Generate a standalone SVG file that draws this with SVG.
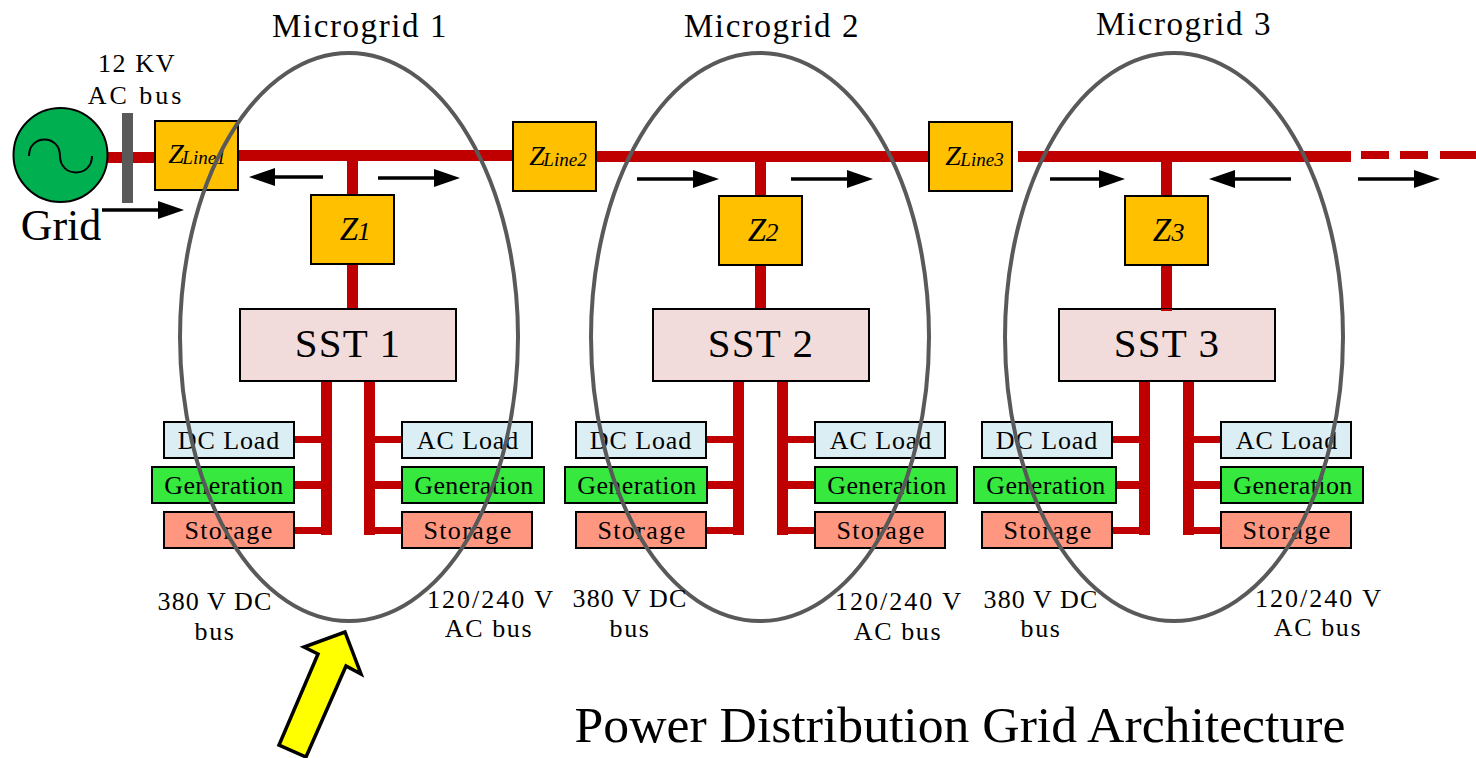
<svg xmlns="http://www.w3.org/2000/svg" width="1476" height="758" viewBox="0 0 1476 758">
<style>
text{font-family:"Liberation Serif","DejaVu Serif",serif;fill:#000;text-anchor:middle}
.box{stroke:#000;stroke-width:2}
.z{fill:#ffc000}
.sst{fill:#f2dcdb}
.dc{fill:#dbeef4}
.gen{fill:#37e83f}
.sto{fill:#ff9680}
.r{fill:#c00000}
.t{font-size:26px;letter-spacing:.9px}
.tg{font-size:26px;letter-spacing:.4px}
.ts{font-size:26px;letter-spacing:1.4px}
.l{font-size:44px}
.mi{font-size:33px;letter-spacing:1.6px}
.sst-t{font-size:41px;letter-spacing:1.2px}
.zt{font-size:33px;font-style:italic}
.zs{font-size:26px;font-style:italic}
.zlt{font-size:28px;font-style:italic}
.zls{font-size:19px;font-style:italic}
.lb{font-size:26px;letter-spacing:1.1px}
.lw{font-size:26px;letter-spacing:2px}
.lm{font-size:26px;letter-spacing:1.6px}
.e{fill:none;stroke:#595959;stroke-width:4}
.a{stroke:#000;stroke-width:3.5;fill:none}
</style>
<defs>
<marker id="ah" markerUnits="userSpaceOnUse" markerWidth="26" markerHeight="18" refX="2" refY="9" orient="auto"><path d="M0 0L26 9L0 18Z" fill="#000"/></marker>
</defs>
<g id="connectors">
<rect class="r" x="106" y="152" width="50" height="11"/>
<rect class="r" x="237" y="150" width="278" height="11"/>
<rect class="r" x="596" y="151" width="335" height="11"/>
<rect class="r" x="1018" y="151" width="333" height="11"/>
<rect class="r" x="1361" y="151" width="28" height="8"/>
<rect class="r" x="1400" y="151" width="28" height="8"/>
<rect class="r" x="1440" y="151" width="36" height="8"/>
<rect class="r" x="347" y="160" width="11" height="150"/>
<rect class="r" x="755" y="160" width="11" height="150"/>
<rect class="r" x="1161" y="160" width="11" height="151"/>
<g id="bus1">
<rect class="r" x="321" y="380" width="11" height="155"/><rect class="r" x="364" y="380" width="11" height="155"/>
<rect class="r" x="293" y="436" width="30" height="7"/><rect class="r" x="293" y="481" width="30" height="8"/><rect class="r" x="293" y="527" width="30" height="7"/>
<rect class="r" x="374" y="436" width="30" height="7"/><rect class="r" x="374" y="481" width="30" height="8"/><rect class="r" x="374" y="527" width="30" height="7"/>
</g>
<g id="bus2">
<rect class="r" x="733" y="380" width="11" height="155"/><rect class="r" x="777" y="380" width="11" height="155"/>
<rect class="r" x="705" y="436" width="30" height="7"/><rect class="r" x="705" y="481" width="30" height="8"/><rect class="r" x="705" y="527" width="30" height="7"/>
<rect class="r" x="787" y="436" width="30" height="7"/><rect class="r" x="787" y="481" width="30" height="8"/><rect class="r" x="787" y="527" width="30" height="7"/>
</g>
<g id="bus3">
<rect class="r" x="1139" y="380" width="11" height="155"/><rect class="r" x="1183" y="380" width="11" height="155"/>
<rect class="r" x="1111" y="436" width="30" height="7"/><rect class="r" x="1111" y="481" width="30" height="8"/><rect class="r" x="1111" y="527" width="30" height="7"/>
<rect class="r" x="1193" y="436" width="30" height="7"/><rect class="r" x="1193" y="481" width="30" height="8"/><rect class="r" x="1193" y="527" width="30" height="7"/>
</g>
<g id="flow-arrows">
<line class="a" x1="102" y1="210" x2="160" y2="210" marker-end="url(#ah)"/>
<line class="a" x1="323" y1="177" x2="273" y2="177" marker-end="url(#ah)"/>
<line class="a" x1="378" y1="178" x2="436" y2="178" marker-end="url(#ah)"/>
<line class="a" x1="637" y1="179" x2="695" y2="179" marker-end="url(#ah)"/>
<line class="a" x1="791" y1="179" x2="849" y2="179" marker-end="url(#ah)"/>
<line class="a" x1="1050" y1="179" x2="1101" y2="179" marker-end="url(#ah)"/>
<line class="a" x1="1291" y1="179" x2="1233" y2="179" marker-end="url(#ah)"/>
<line class="a" x1="1358" y1="179" x2="1416" y2="179" marker-end="url(#ah)"/>
</g>
</g>
<g id="grid"><circle cx="60.5" cy="155" r="47" fill="#00b050" stroke="#000" stroke-width="2"/><path d="M29 156C29 134 60 134 60 156C60 178 92 178 92 156" fill="none" stroke="#000" stroke-width="2"/><text class="l" x="61" y="240">Grid</text></g>
<g id="ac-bus"><rect x="122" y="113" width="11" height="90" fill="#595959"/><text class="lm" x="137" y="72">12 KV</text><text class="lm" x="136" y="104" style="letter-spacing:3px">AC bus</text></g>
<g id="zline1"><rect class="box z" x="155" y="121" width="83" height="69"/><text class="zlt" x="176" y="163">Z</text><text class="zls" x="204" y="164">Line1</text></g>
<g id="zline2"><rect class="box z" x="513" y="122" width="83" height="69"/><text class="zlt" x="537" y="165">Z</text><text class="zls" x="565" y="166">Line2</text></g>
<g id="zline3"><rect class="box z" x="929" y="122" width="83" height="69"/><text class="zlt" x="953" y="165">Z</text><text class="zls" x="982" y="166">Line3</text></g>
<g id="z1"><rect class="box z" x="311" y="195" width="83" height="69"/><text class="zt" x="349" y="240">Z</text><text class="zs" x="364" y="240">1</text></g>
<g id="z2"><rect class="box z" x="719" y="196" width="83" height="69"/><text class="zt" x="757" y="241">Z</text><text class="zs" x="772" y="241">2</text></g>
<g id="z3"><rect class="box z" x="1125" y="196" width="83" height="69"/><text class="zt" x="1162" y="241">Z</text><text class="zs" x="1178" y="241">3</text></g>
<g id="sst1"><rect class="box sst" x="240" y="309" width="216" height="72"/><text class="sst-t" x="348" y="357">SST 1</text></g>
<g id="sst2"><rect class="box sst" x="653" y="309" width="216" height="72"/><text class="sst-t" x="761" y="357">SST 2</text></g>
<g id="sst3"><rect class="box sst" x="1059" y="309" width="216" height="72"/><text class="sst-t" x="1167" y="357">SST 3</text></g>
<rect class="r" x="1161" y="309" width="11" height="2"/>
<g id="dc1"><rect class="box dc" x="164" y="422" width="130" height="36"/><text class="t" x="229" y="449">DC Load</text></g>
<g id="gen1"><rect class="box gen" x="152" y="467" width="142" height="36"/><text class="tg" x="224" y="494">Generation</text></g>
<g id="sto1"><rect class="box sto" x="164" y="512" width="130" height="36"/><text class="ts" x="229" y="539">Storage</text></g>
<g id="ac1"><rect class="box dc" x="402" y="422" width="130" height="36"/><text class="t" x="468" y="449">AC Load</text></g>
<g id="gen1b"><rect class="box gen" x="402" y="467" width="142" height="36"/><text class="tg" x="474" y="494">Generation</text></g>
<g id="sto1b"><rect class="box sto" x="402" y="512" width="130" height="36"/><text class="ts" x="468" y="539">Storage</text></g>
<g id="dc2"><rect class="box dc" x="576" y="422" width="130" height="36"/><text class="t" x="641" y="449">DC Load</text></g>
<g id="gen2"><rect class="box gen" x="565" y="467" width="142" height="36"/><text class="tg" x="637" y="494">Generation</text></g>
<g id="sto2"><rect class="box sto" x="576" y="512" width="130" height="36"/><text class="ts" x="642" y="539">Storage</text></g>
<g id="ac2"><rect class="box dc" x="815" y="422" width="130" height="36"/><text class="t" x="881" y="449">AC Load</text></g>
<g id="gen2b"><rect class="box gen" x="815" y="467" width="142" height="36"/><text class="tg" x="887" y="494">Generation</text></g>
<g id="sto2b"><rect class="box sto" x="815" y="512" width="130" height="36"/><text class="ts" x="881" y="539">Storage</text></g>
<g id="dc3"><rect class="box dc" x="982" y="422" width="130" height="36"/><text class="t" x="1047" y="449">DC Load</text></g>
<g id="gen3"><rect class="box gen" x="974" y="467" width="142" height="36"/><text class="tg" x="1046" y="494">Generation</text></g>
<g id="sto3"><rect class="box sto" x="982" y="512" width="130" height="36"/><text class="ts" x="1048" y="539">Storage</text></g>
<g id="ac3"><rect class="box dc" x="1221" y="422" width="130" height="36"/><text class="t" x="1287" y="449">AC Load</text></g>
<g id="gen3b"><rect class="box gen" x="1221" y="467" width="142" height="36"/><text class="tg" x="1293" y="494">Generation</text></g>
<g id="sto3b"><rect class="box sto" x="1221" y="512" width="130" height="36"/><text class="ts" x="1287" y="539">Storage</text></g>
<g id="mg1"><ellipse class="e" cx="349" cy="337" rx="169" ry="284"/><text class="mi" x="360" y="37">Microgrid 1</text><text class="lb" x="215" y="610">380 V DC</text><text class="lm" x="215" y="640">bus</text><text class="lw" x="491" y="608">120/240 V</text><text class="lm" x="489" y="637">AC bus</text></g>
<g id="mg2"><ellipse class="e" cx="760" cy="337" rx="169" ry="284"/><text class="mi" x="772" y="37">Microgrid 2</text><text class="lb" x="630" y="607">380 V DC</text><text class="lm" x="630" y="637">bus</text><text class="lw" x="899" y="610">120/240 V</text><text class="lm" x="898" y="640">AC bus</text></g>
<g id="mg3"><ellipse class="e" cx="1174" cy="337" rx="169" ry="284"/><text class="mi" x="1184" y="35">Microgrid 3</text><text class="lb" x="1041" y="608">380 V DC</text><text class="lm" x="1041" y="637">bus</text><text class="lw" x="1319" y="607">120/240 V</text><text class="lm" x="1318" y="636">AC bus</text></g>
<polygon id="callout" points="345,632 361,674 346,666 306,757 279,745 318,654 304,647" fill="#ffff00" stroke="#000" stroke-width="3.5"/>
<text id="title" x="960" y="742" style="font-size:51.7px">Power Distribution Grid Architecture</text>
</svg>
